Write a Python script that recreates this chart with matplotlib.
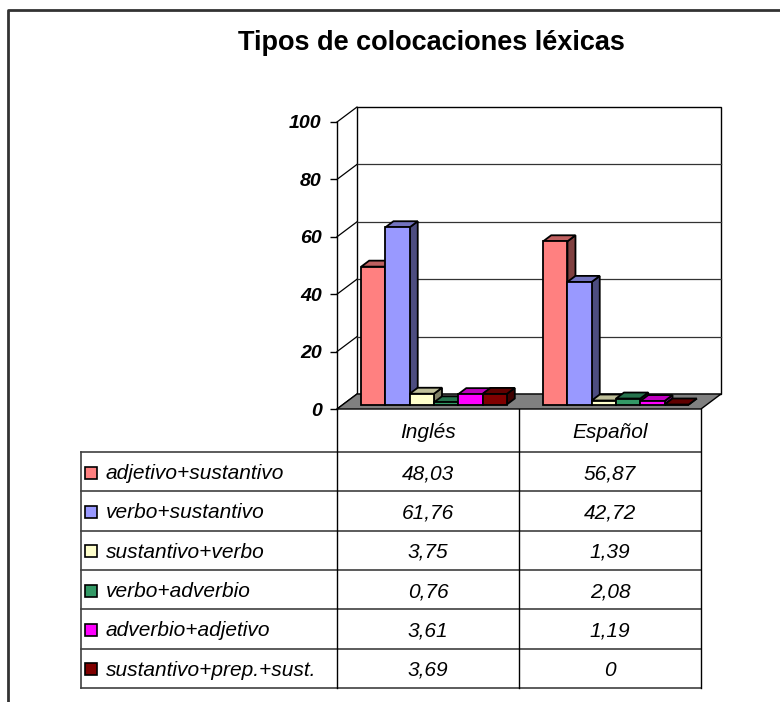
import matplotlib
matplotlib.use("Agg")
import matplotlib.pyplot as plt
from matplotlib.patches import Polygon, Rectangle
import numpy as np

plt.rcParams['font.family'] = ['Liberation Sans', 'DejaVu Sans']

# ---- data -------------------------------------------------------------
title = "Tipos de colocaciones léxicas"
categories = ["Inglés", "Español"]
series_names = ["adjetivo+sustantivo", "verbo+sustantivo", "sustantivo+verbo",
                "verbo+adverbio", "adverbio+adjetivo", "sustantivo+prep.+sust."]
ingles = [48.03, 61.76, 3.75, 0.76, 3.61, 3.69]
espanol = [56.87, 42.72, 1.39, 2.08, 1.19, 0]
yticks = [0, 20, 40, 60, 80, 100]
series_colors = ["#FF8080", "#9999FF", "#FFFFCC", "#339966", "#FF00FF", "#800000"]

values = np.array([ingles, espanol])  # shape (categories, series)

# ---- figure layout (pixel helpers) -----------------------------------
W, H = 780, 702
fig = plt.figure(figsize=(W / 100, H / 100), dpi=100)


def px_rect(l, t, r, b):
    return [l / W, 1 - b / H, (r - l) / W, (b - t) / H]


# overlay in pixel units for frame, title and data table
ov = fig.add_axes([0, 0, 1, 1], zorder=0)
ov.set_xlim(0, W)
ov.set_ylim(H, 0)
ov.axis("off")

# chart axes: x in category units, y in value units (front plane)
plot_l, plot_t, plot_r, plot_b = 337, 122, 701, 409
ax = fig.add_axes(px_rect(plot_l, plot_t, plot_r, plot_b), zorder=1)
ax.patch.set_alpha(0)
ncat = len(categories)
ax.set_xlim(0, ncat)
ax.set_ylim(0, 100)

# oblique depth offset of the 3-D box, in data units
px_per_cat = (plot_r - plot_l) / ncat
px_per_val = (plot_b - plot_t) / 100.0
DX = 20 / px_per_cat
DY = 15 / px_per_val

# axis styling: only the left spine with outward ticks
for s in ["top", "right", "bottom"]:
    ax.spines[s].set_visible(False)
ax.spines["left"].set_linewidth(1.0)
ax.set_xticks([])
ax.set_yticks(yticks)
ax.set_yticklabels([str(t) for t in yticks], fontsize=14, fontweight="bold",
                   fontstyle="italic")
ax.tick_params(axis="y", direction="out", length=5, width=1, pad=6)

line_kw = dict(color="black", lw=0.9, clip_on=False)

# back wall
ax.add_patch(Rectangle((DX, DY), ncat, 100, facecolor="white", edgecolor="black",
                       lw=1.0, clip_on=False, zorder=0.5))
for v in yticks[1:-1]:
    ax.plot([DX, ncat + DX], [v + DY, v + DY], color="#333333", lw=0.9,
            clip_on=False, zorder=0.6)
# side wall diagonals
for v in yticks:
    ax.plot([0, DX], [v, v + DY], zorder=0.6, **line_kw)

# floor
ax.add_patch(Polygon([(0, 0), (ncat, 0), (ncat + DX, DY), (DX, DY)],
                     closed=True, facecolor="#808080", edgecolor="black",
                     lw=1.0, clip_on=False, zorder=0.7))

# 3-D bars
group_w = 0.8
bw = group_w / len(series_names)
f0, f1 = 0.3, 0.7  # bar depth span inside the box
base = f0 * DY
ddx, ddy = (f1 - f0) * DX, (f1 - f0) * DY


def shade(hexcol, k):
    c = np.array(matplotlib.colors.to_rgb(hexcol))
    return tuple(c * k)


z = 1.0
for ci in range(ncat):
    for si, name in enumerate(series_names):
        v = values[ci, si]
        x0 = ci + (1 - group_w) / 2 + si * bw + f0 * DX
        col = series_colors[si]
        front = [(x0, base), (x0 + bw, base), (x0 + bw, base + v), (x0, base + v)]
        top = [(x0, base + v), (x0 + bw, base + v),
               (x0 + bw + ddx, base + v + ddy), (x0 + ddx, base + v + ddy)]
        side = [(x0 + bw, base), (x0 + bw + ddx, base + ddy),
                (x0 + bw + ddx, base + v + ddy), (x0 + bw, base + v)]
        for pts, fc in [(side, shade(col, 0.5)), (top, shade(col, 0.75)),
                        (front, col)]:
            ax.add_patch(Polygon(pts, closed=True, facecolor=fc, edgecolor="black",
                                 lw=1.3, joinstyle="miter", clip_on=False,
                                 zorder=z))
        z += 0.01

# ---- outer frame and title -------------------------------------------
ov.plot([8, 8, W], [H, 10, 10], color="#333333", lw=2)
ov.text(431, 43, title, ha="center", va="center", fontsize=19.5,
        fontweight="bold")

# ---- data table -------------------------------------------------------
tab_l, col1, col2, tab_r = 81, plot_l, 519, plot_r
head_t, head_b, tab_b = plot_b, 452, 688
nrow = len(series_names)
row_h = (tab_b - head_b) / nrow
row_y = [head_b + i * row_h for i in range(nrow + 1)]

grid_col = "#404040"
for y in row_y:
    ov.plot([tab_l, tab_r], [y, y], color=grid_col, lw=1.2)
for x in [col1, col2, tab_r]:
    ov.plot([x, x], [head_t, tab_b], color="black", lw=1.0)
ov.plot([tab_l, tab_l], [head_b, tab_b], color=grid_col, lw=1.2)

col_centers = [(col1 + col2) / 2, (col2 + tab_r) / 2]
for ci, cat in enumerate(categories):
    ov.text(col_centers[ci], (head_t + head_b) / 2 + 2, cat, ha="center",
            va="center", fontsize=15, fontstyle="italic")


def fmt(v):
    if float(v).is_integer():
        return str(int(v))
    return f"{v:.2f}".replace(".", ",")


for si, name in enumerate(series_names):
    yc = row_y[si] + row_h / 2
    ov.add_patch(Rectangle((85, yc - 5), 12, 12, facecolor=series_colors[si],
                           edgecolor="black", lw=1.2))
    ov.text(106, yc + 2, name, ha="left", va="center", fontsize=15,
            fontstyle="italic")
    for ci in range(ncat):
        ov.text(col_centers[ci], yc + 2, fmt(values[ci, si]), ha="center",
                va="center", fontsize=15, fontstyle="italic")

fig.savefig("out.png", dpi=100)
